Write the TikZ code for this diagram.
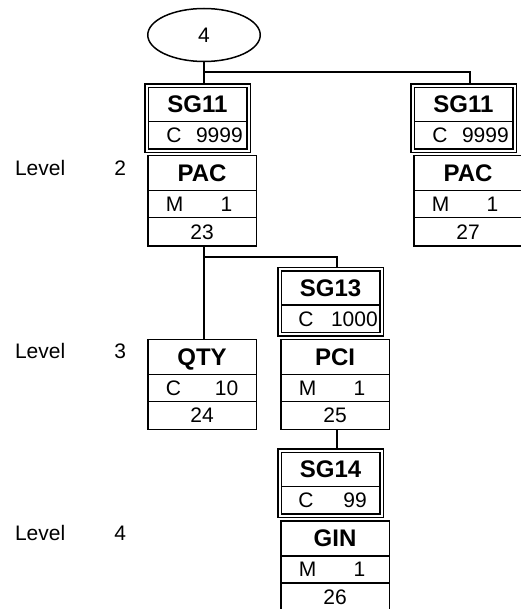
\documentclass[tikz,border=0pt]{standalone}
\usepackage{fontspec}
\setmainfont{Liberation Sans}
\usetikzlibrary{positioning,fit,shapes.geometric}

\tikzset{
  boxline/.style={line width=1.5pt},
  plain/.style={inner sep=0pt, outer sep=0pt, text height=15pt, text depth=0pt, font=\fontsize{21}{25}\selectfont},
  root/.style={draw, boxline, ellipse, inner sep=0pt, minimum width=112.5pt, minimum height=53pt, plain},
  seghead/.style={draw, boxline, inner sep=0pt, outer sep=0pt, minimum width=108.5pt, minimum height=35pt,
    text height=17pt, text depth=0pt, font=\fontsize{24}{28}\selectfont\bfseries},
  segstat/.style={seghead, minimum height=27pt, text height=15pt, font=\fontsize{21}{25}\selectfont},
  segpos/.style={seghead, minimum height=28pt, text height=15pt, font=\fontsize{21}{25}\selectfont},
  grphead/.style={inner sep=0pt, outer sep=0pt, minimum width=98.5pt, minimum height=34.25pt,
    text height=17pt, text depth=0pt, font=\fontsize{24}{28}\selectfont\bfseries},
  grpcnt/.style={grphead, minimum height=27.25pt, text height=15pt, font=\fontsize{21}{25}\selectfont},
  grpframe/.style={draw, boxline, double, double distance=2pt, inner sep=1.75pt, outer sep=0pt},
  link/.style={line width=1.5pt},
}

\begin{document}
\begin{tikzpicture}[x=1pt, y=-1pt]
  \useasboundingbox (0,0) rectangle (520,609);

  % -- Root --
  \node[root] (root) at (204,35) {4};

  % -- Level labels --
  \node[plain, anchor=west] (lvltwo) at (15,168) {Level};
  \node[plain, anchor=east] (lvltwon) at (126,168) {2};
  \node[plain, anchor=west] (lvlthree) at (15,351) {Level};
  \node[plain, anchor=east] (lvlthreen) at (126,351) {3};
  \node[plain, anchor=west] (lvlfour) at (15,533) {Level};
  \node[plain, anchor=east] (lvlfourn) at (126,533) {4};

  % -- SG11 / PAC 23 --
  \node[grphead] (sg11a) at (197.5,104.4) {SG11};
  \node[grpcnt, below=0pt of sg11a] (sg11acnt) {};
  \node[plain, anchor=west] (sg11ac) at ([xshift=18pt]sg11acnt.west) {C};
  \node[plain, anchor=east] (sg11an) at ([xshift=-4pt]sg11acnt.east) {9999};
  \draw[boxline] (sg11a.south west) -- (sg11a.south east);
  \node[grpframe, fit=(sg11a)(sg11acnt)] (sg11afr) {};

  \node[seghead] (paca) at (202,173.25) {PAC};
  \node[segstat, below=0pt of paca] (pacast) {};
  \node[plain, anchor=west] (pacam) at ([xshift=18pt]pacast.west) {M};
  \node[plain, anchor=east] (pacan) at ([xshift=-24pt]pacast.east) {1};
  \node[segpos, below=0pt of pacast] (pacapos) {23};

  % -- SG11 / PAC 27 --
  \node[grphead] (sg11b) at (463.5,104.4) {SG11};
  \node[grpcnt, below=0pt of sg11b] (sg11bcnt) {};
  \node[plain, anchor=west] (sg11bc) at ([xshift=18pt]sg11bcnt.west) {C};
  \node[plain, anchor=east] (sg11bn) at ([xshift=-4pt]sg11bcnt.east) {9999};
  \draw[boxline] (sg11b.south west) -- (sg11b.south east);
  \node[grpframe, fit=(sg11b)(sg11bcnt)] (sg11bfr) {};

  \node[seghead] (pacb) at (468,173.25) {PAC};
  \node[segstat, below=0pt of pacb] (pacbst) {};
  \node[plain, anchor=west] (pacbm) at ([xshift=18pt]pacbst.west) {M};
  \node[plain, anchor=east] (pacbn) at ([xshift=-24pt]pacbst.east) {1};
  \node[segpos, below=0pt of pacbst] (pacbpos) {27};

  % -- QTY 24 --
  \node[seghead] (qty) at (202,356.75) {QTY};
  \node[segstat, below=0pt of qty] (qtyst) {};
  \node[plain, anchor=west] (qtyc) at ([xshift=18pt]qtyst.west) {C};
  \node[plain, anchor=east] (qtyn) at ([xshift=-18pt]qtyst.east) {10};
  \node[segpos, below=0pt of qtyst] (qtypos) {24};

  % -- SG13 / PCI 25 --
  \node[grphead] (sg13) at (330.5,287.9) {SG13};
  \node[grpcnt, below=0pt of sg13] (sg13cnt) {};
  \node[plain, anchor=west] (sg13c) at ([xshift=17pt]sg13cnt.west) {C};
  \node[plain, anchor=east] (sg13n) at ([xshift=-2pt]sg13cnt.east) {1000};
  \draw[boxline] (sg13.south west) -- (sg13.south east);
  \node[grpframe, fit=(sg13)(sg13cnt)] (sg13fr) {};

  \node[seghead] (pci) at (335,356.75) {PCI};
  \node[segstat, below=0pt of pci] (pcist) {};
  \node[plain, anchor=west] (pcim) at ([xshift=18pt]pcist.west) {M};
  \node[plain, anchor=east] (pcin) at ([xshift=-24pt]pcist.east) {1};
  \node[segpos, below=0pt of pcist] (pcipos) {25};

  % -- SG14 / GIN 26 --
  \node[grphead] (sg14) at (330.5,469.4) {SG14};
  \node[grpcnt, below=0pt of sg14] (sg14cnt) {};
  \node[plain, anchor=west] (sg14c) at ([xshift=17pt]sg14cnt.west) {C};
  \node[plain, anchor=east] (sg14n) at ([xshift=-13pt]sg14cnt.east) {99};
  \draw[boxline] (sg14.south west) -- (sg14.south east);
  \node[grpframe, fit=(sg14)(sg14cnt)] (sg14fr) {};

  \node[seghead] (gin) at (335,538.25) {GIN};
  \node[segstat, below=0pt of gin] (ginst) {};
  \node[plain, anchor=west] (ginm) at ([xshift=18pt]ginst.west) {M};
  \node[plain, anchor=east] (ginn) at ([xshift=-24pt]ginst.east) {1};
  \node[segpos, below=0pt of ginst] (ginpos) {26};

  % -- Connectors --
  \coordinate (splitone) at ([yshift=-10.5pt]root.south);
  \coordinate (splittwo) at ([xshift=2pt, yshift=-11pt]pacapos.south);
  \draw[link, shorten >=1.5pt] (root.south) -- ([xshift=6.5pt]sg11afr.north);
  \draw[link, shorten >=1.5pt] (splitone) -| ([xshift=6.5pt]sg11bfr.north);
  \draw[link] ([xshift=2pt]pacapos.south) -- ([xshift=2pt]qty.north);
  \draw[link, shorten >=1.5pt] (splittwo) -| ([xshift=6.5pt]sg13fr.north);
  \draw[link, shorten >=1.5pt] ([xshift=2pt]pcipos.south) -- ([xshift=6.5pt]sg14fr.north);

\end{tikzpicture}
\end{document}
